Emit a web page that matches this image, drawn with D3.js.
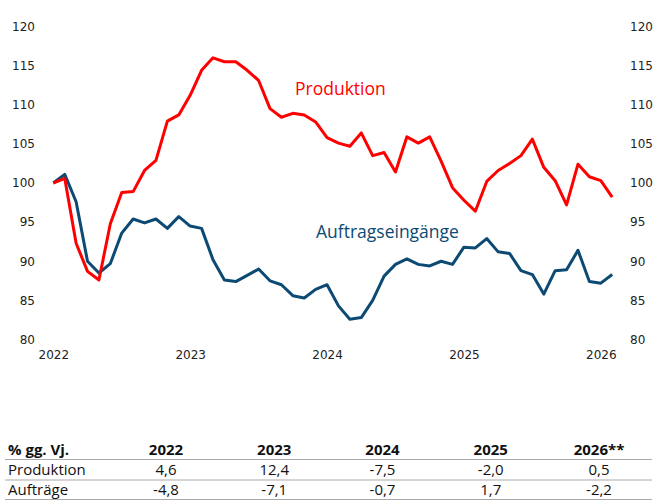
<!DOCTYPE html>
<html>
<head>
  <meta charset="utf-8">
  <title>Produktion und Auftragseingänge</title>
  <script src="https://d3js.org/d3.v7.min.js"></script>
  <style>
    body {
      margin: 0;
      padding: 0;
      background: #fff;
    }
    .tick text {
      font-family: "DejaVu Sans", sans-serif;
      font-size: 12px;
      fill: #222;
    }
    .tab {
      font-family: "Open Sans", sans-serif;
      font-size: 15px;
      fill: #111;
    }
    .tab-head {
      font-weight: bold;
    }
  </style>
</head>
<body>
  <div id="chart"></div>
  <script>
    // monthly index values, Jan 2022 = 100
    var produktion = [100.0, 100.6, 92.3, 88.7, 87.6, 94.8, 98.8, 98.9, 101.6, 102.9,
      107.9, 108.7, 111.2, 114.4, 116.0, 115.5, 115.5, 114.4, 113.1, 109.5,
      108.4, 108.9, 108.7, 107.8, 105.8, 105.1, 104.7, 106.4, 103.5, 103.9,
      101.4, 105.9, 105.1, 105.9, 102.8, 99.4, 97.8, 96.4, 100.2, 101.6,
      102.5, 103.5, 105.6, 102.0, 100.3, 97.2, 102.4, 100.8, 100.3, 98.2];
    var auftraege = [100.0, 101.1, 97.6, 90.0, 88.5, 89.7, 93.6, 95.4, 94.9, 95.4,
      94.2, 95.7, 94.5, 94.2, 90.2, 87.6, 87.4, 88.2, 89.0, 87.5,
      87.0, 85.6, 85.3, 86.4, 87.0, 84.3, 82.6, 82.8, 85.0, 88.1,
      89.6, 90.3, 89.6, 89.4, 90.0, 89.6, 91.8, 91.7, 92.9, 91.2,
      91.0, 88.8, 88.3, 85.8, 88.8, 88.9, 91.4, 87.4, 87.2, 88.3];
    var years = ["2022", "2023", "2024", "2025", "2026"];
    var yTicks = [80, 85, 90, 95, 100, 105, 110, 115, 120];

    // table below the chart
    var tableHead = ["2022", "2023", "2024", "2025", "2026**"];
    var rowProduktion = ["4,6", "12,4", "-7,5", "-2,0", "0,5"];
    var rowAuftraege = ["-4,8", "-7,1", "-0,7", "1,7", "-2,2"];

    var width = 657,
        height = 502;

    var svg = d3.select("#chart")
      .append("svg")
        .attr("width", width)
        .attr("height", height);

    var x = d3.scaleLinear()
        .domain([0, produktion.length - 1])
        .range([53.3, 612.2]);

    var y = d3.scaleLinear()
        .domain([80, 120])
        .range([339.5, 26.5]);

    // y axis left
    var yLeft = svg.append("g")
        .attr("transform", "translate(37,0)")
        .call(d3.axisLeft(y).tickValues(yTicks).tickSize(0).tickPadding(2));
    yLeft.select(".domain").remove();

    // y axis right
    var yRight = svg.append("g")
        .attr("transform", "translate(628,0)")
        .call(d3.axisRight(y).tickValues(yTicks).tickSize(0).tickPadding(2));
    yRight.select(".domain").remove();

    // x axis with year labels every 12 months
    var xAxis = svg.append("g")
        .attr("transform", "translate(0,345)")
        .call(d3.axisBottom(x)
          .tickValues(years.map(function(d, i) { return i * 12; }))
          .tickFormat(function(d, i) { return years[i]; })
          .tickSize(0)
          .tickPadding(5));
    xAxis.select(".domain").remove();

    var line = d3.line()
        .x(function(d, i) { return x(i); })
        .y(function(d) { return y(d); });

    svg.append("path")
        .datum(auftraege)
        .attr("fill", "none")
        .attr("stroke", "#0c4a73")
        .attr("stroke-width", 3)
        .attr("stroke-linejoin", "round")
        .attr("d", line);

    svg.append("path")
        .datum(produktion)
        .attr("fill", "none")
        .attr("stroke", "#ff0000")
        .attr("stroke-width", 3)
        .attr("stroke-linejoin", "round")
        .attr("d", line);

    // series labels
    svg.append("text")
        .attr("x", 295)
        .attr("y", 95)
        .attr("fill", "#ff0000")
        .style("font-family", "Open Sans, sans-serif")
        .style("font-size", "17.5px")
        .text("Produktion");

    svg.append("text")
        .attr("x", 316)
        .attr("y", 238)
        .attr("fill", "#0c4a73")
        .style("font-family", "Open Sans, sans-serif")
        .style("font-size", "17.5px")
        .text("Auftragseingänge");

    // table
    var col = d3.scalePoint()
        .domain(tableHead)
        .range([166, 599]);

    var rows = [
      { label: "% gg. Vj.", values: tableHead, y: 455, head: true },
      { label: "Produktion", values: rowProduktion, y: 475, head: false },
      { label: "Aufträge", values: rowAuftraege, y: 495, head: false }
    ];

    rows.forEach(function(r) {
      svg.append("text")
          .attr("class", "tab" + (r.head ? " tab-head" : ""))
          .attr("x", 8)
          .attr("y", r.y)
          .text(r.label);
      svg.selectAll(null)
          .data(r.values)
        .enter().append("text")
          .attr("class", "tab" + (r.head ? " tab-head" : ""))
          .attr("x", function(d, i) { return col(tableHead[i]); })
          .attr("y", r.y)
          .attr("text-anchor", "middle")
          .text(function(d) { return d; });
    });

    [459.5, 480, 499.5].forEach(function(ly) {
      svg.append("line")
          .attr("x1", 5)
          .attr("x2", 652)
          .attr("y1", ly)
          .attr("y2", ly)
          .attr("stroke", "#aaaaaa")
          .attr("stroke-width", 1);
    });
  </script>
</body>
</html>
